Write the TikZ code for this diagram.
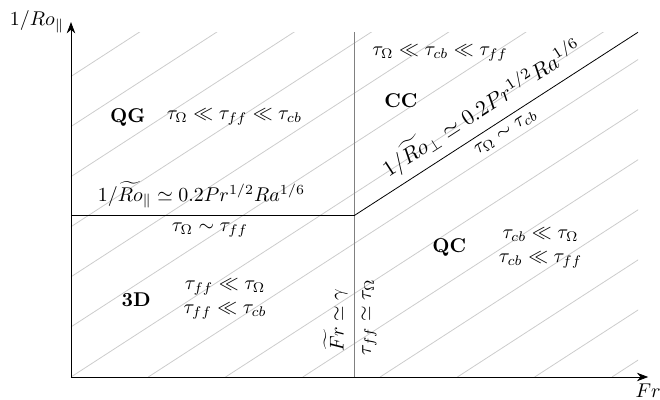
\documentclass[tikz,border=0pt]{standalone}
\usepackage{amsmath,amssymb}
\usepackage{xcolor}
\usepackage{tikz}
\usetikzlibrary{arrows.meta,positioning,calc}

\begin{document}
\begin{tikzpicture}[
  axis/.style={-{Stealth[length=2mm]}},
  hatch/.style={gray!40},
  border/.style={gray},
  regime/.style={font=\bfseries},
  rel/.style={align=center},
  diag/.style={sloped}
]
\useasboundingbox (-1.252,-0.388) rectangle (10.388,6.649);

\coordinate (O) at (0,0);
\coordinate (xend) at (10.18,0);
\coordinate (yend) at (0,6.26);
\coordinate (vb) at (5,0);
\coordinate (vt) at (5,6.08);
\coordinate (hl) at (0,2.85);
\coordinate (hr) at (5,2.85);
\coordinate (dr) at (10,6.08);

% hatching
\begin{scope}
  \clip (0,0) rectangle (10,6.08);
  \foreach \k in {-6,...,7}
    \draw[hatch] (\k*1.363,0) -- ++(16,10.37);
\end{scope}

% axes
\draw[axis] (O) -- (xend) node[below] {$Fr$};
\draw[axis] (O) -- (yend) node[left] {$1/Ro_\parallel$};

% regime borders
\draw[border] (vb) -- (vt);
\node[rotate=90, anchor=south] (frlbl) at (5,1.0) {$\widetilde{Fr} \simeq \gamma$};
\node[rotate=90, anchor=north] (tflbl) at (5,1.05) {$\tau_{ff} \simeq \tau_\Omega$};

\draw (hl) -- (hr)
  node[pos=0.46, above] (rolbl) {$1/\widetilde{Ro}_\parallel \simeq 0.2 Pr^{1/2} Ra^{1/6}$}
  node[pos=0.49, below] (tolbl) {$\tau_\Omega \sim \tau_{ff}$};

\draw (hr) -- (dr)
  node[pos=0.49, above, diag, scale=1.1] (rplbl) {$1/\widetilde{Ro}_\perp \simeq 0.2 Pr^{1/2} Ra^{1/6}$}
  node[pos=0.51, below, diag] (tclbl) {$\tau_\Omega \sim \tau_{cb}$};

% regimes
\node[regime] (qg) at (1.0,4.58) {QG};
\node[rel, right=0.13cm of qg] (qgrel) {$\tau_\Omega \ll \tau_{ff} \ll \tau_{cb}$};

\node[regime] (cc) at (5.82,4.88) {CC};
\node[rel] (ccrel) at (6.51,5.71) {$\tau_\Omega \ll \tau_{cb} \ll \tau_{ff}$};

\node[regime] (td) at (1.15,1.37) {3D};
\node[rel, right=0.33cm of td] (tdrel) {$\tau_{ff} \ll \tau_\Omega$\\$\tau_{ff} \ll \tau_{cb}$};

\node[regime] (qc) at (6.67,2.28) {QC};
\node[rel, right=0.33cm of qc] (qcrel) {$\tau_{cb} \ll \tau_\Omega$\\$\tau_{cb} \ll \tau_{ff}$};

\end{tikzpicture}
\end{document}
